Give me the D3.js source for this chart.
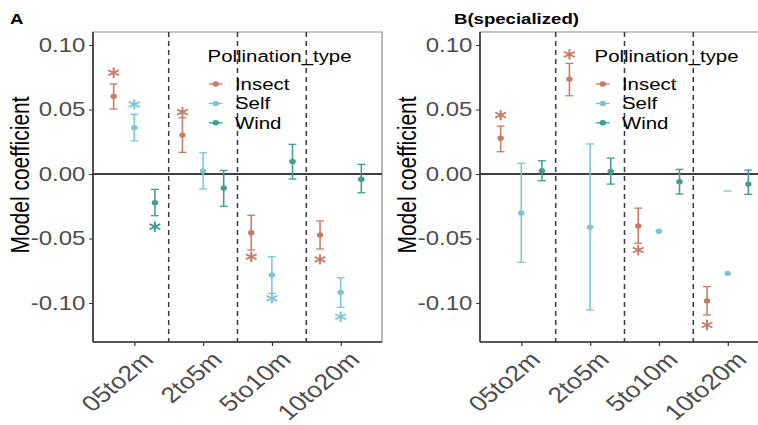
<!DOCTYPE html>
<html>
<head>
<meta charset="utf-8">
<script src="https://cdn.jsdelivr.net/npm/d3@7/dist/d3.min.js"></script>
<style>
  html, body { margin: 0; padding: 0; background: #ffffff; }
  svg { display: block; font-family: "Liberation Sans", Arial, sans-serif; }
</style>
</head>
<body>
<svg id="chart" width="758" height="425"></svg>
<script>
// Distance classes on the x axis and pollination groups
const categories = ["05to2m", "2to5m", "5to10m", "10to20m"];
const pollinationTypes = ["Insect", "Self", "Wind"];
const typeColors = ["#c97b66", "#7cc5d5", "#3f9e8f"];

const yTickValues = [-0.10, -0.05, 0.00, 0.05, 0.10];
const yTickLabels = ["-0.10", "-0.05", "0.00", "0.05", "0.10"];

// Panel A: all species
const aInsectEst  = [0.0602, 0.0302, -0.0455, -0.0473];
const aInsectLo   = [0.0504, 0.0168, -0.0589, -0.0581];
const aInsectHi   = [0.0698, 0.0436, -0.0320, -0.0364];
const aInsectStar = [0.0785, 0.0480, -0.0641, -0.0661];

const aSelfEst  = [0.0359, 0.0023, -0.0783, -0.0917];
const aSelfLo   = [0.0258, -0.0116, -0.0925, -0.1033];
const aSelfHi   = [0.0463, 0.0165, -0.0641, -0.0804];
const aSelfStar = [0.0540, null, -0.0964, -0.1106];

const aWindEst  = [-0.0222, -0.0109, 0.0098, -0.0041];
const aWindLo   = [-0.0323, -0.0250, -0.0039, -0.0145];
const aWindHi   = [-0.0119, 0.0028, 0.0230, 0.0075];
const aWindStar = [-0.0408, null, null, null];

// Panel B: specialized species
const bInsectEst  = [0.0277, 0.0736, -0.0403, -0.0984];
const bInsectLo   = [0.0173, 0.0607, -0.0537, -0.1093];
const bInsectHi   = [0.0372, 0.0858, -0.0264, -0.0873];
const bInsectStar = [0.0457, 0.0928, -0.0589, -0.1170];

const bSelfEst  = [-0.0302, -0.0413, -0.0444, -0.0770];
const bSelfLo   = [-0.0684, -0.1054, null, null];
const bSelfHi   = [0.0083, 0.0233, null, -0.0132];
const bSelfStar = [null, null, null, null];

const bWindEst  = [0.0026, 0.0021, -0.0060, -0.0078];
const bWindLo   = [-0.0052, -0.0078, -0.0155, -0.0157];
const bWindHi   = [0.0103, 0.0124, 0.0036, 0.0031];
const bWindStar = [null, null, null, null];

const panels = [
  {
    title: "A", left: 77.5, titleX: 8.3, axisTitleX: 24,
    series: [
      { est: aInsectEst, lo: aInsectLo, hi: aInsectHi, star: aInsectStar },
      { est: aSelfEst,   lo: aSelfLo,   hi: aSelfHi,   star: aSelfStar },
      { est: aWindEst,   lo: aWindLo,   hi: aWindHi,   star: aWindStar }
    ]
  },
  {
    title: "B(specialized)", left: 400, titleX: 378.3, axisTitleX: 346.5,
    series: [
      { est: bInsectEst, lo: bInsectLo, hi: bInsectHi, star: bInsectStar },
      { est: bSelfEst,   lo: bSelfLo,   hi: bSelfHi,   star: bSelfStar },
      { est: bWindEst,   lo: bWindLo,   hi: bWindHi,   star: bWindStar }
    ]
  }
];

// The figure is laid out in a coordinate space that is widened by SX.
const SX = 1.2;
const panelW = 240.8;
const plotTop = 32, plotBottom = 342;
const dodge = [-0.3, 0, 0.3];

const svg = d3.select("#chart");
svg.append("rect").attr("width", 758).attr("height", 425).attr("fill", "#ffffff");
const root = svg.append("g").attr("transform", `scale(${SX},1)`);

const y = d3.scaleLinear().domain([-0.1302, 0.1101]).range([plotBottom, plotTop]);

panels.forEach(p => {
  const x0 = p.left, x1 = p.left + panelW;
  const x = d3.scalePoint().domain(categories).range([x0, x1]).padding(0.6);
  const step = x.step();
  const g = root.append("g");

  // panel border
  g.append("rect")
    .attr("x", x0).attr("y", plotTop)
    .attr("width", x1 - x0).attr("height", plotBottom - plotTop)
    .attr("fill", "none").attr("stroke", "#8a8a8a").attr("stroke-width", 1);

  // zero reference line
  g.append("line")
    .attr("x1", x0).attr("x2", x1)
    .attr("y1", y(0)).attr("y2", y(0))
    .attr("stroke", "#404040").attr("stroke-width", 2);

  // dashed separators between distance classes
  g.selectAll("line.sep")
    .data(categories.slice(0, -1))
    .join("line")
    .attr("class", "sep")
    .attr("x1", d => x(d) + step / 2).attr("x2", d => x(d) + step / 2)
    .attr("y1", plotTop).attr("y2", plotBottom)
    .attr("stroke", "#35364e").attr("stroke-width", 1.25)
    .attr("stroke-dasharray", "5,4");

  // axes
  const yAxis = d3.axisLeft(y)
    .tickValues(yTickValues)
    .tickFormat((d, i) => yTickLabels[i])
    .tickSize(3.3).tickPadding(3);
  const ya = g.append("g").attr("transform", `translate(${x0},0)`).call(yAxis);
  ya.select(".domain").remove();
  ya.selectAll(".tick line").attr("stroke", "#333333").attr("stroke-width", 1);
  ya.selectAll(".tick text")
    .attr("fill", "#4d4d4d")
    .style("font-size", "20px")
    .style("font-family", "Liberation Sans, Arial, sans-serif");

  const xAxis = d3.axisBottom(x).tickSize(4).tickFormat(() => "");
  const xa = g.append("g").attr("transform", `translate(0,${plotBottom})`).call(xAxis);
  xa.select(".domain").remove();
  xa.selectAll(".tick line").attr("stroke", "#333333").attr("stroke-width", 1);

  g.selectAll("text.xlab")
    .data(categories)
    .join("text")
    .attr("class", "xlab")
    .attr("transform", d => `translate(${x(d) + 6},${plotBottom + 8}) rotate(-45)`)
    .attr("text-anchor", "end")
    .attr("dy", "0.71em")
    .attr("fill", "#4d4d4d")
    .style("font-size", "22px")
    .text(d => d);

  g.append("line")
    .attr("x1", x0).attr("x2", x0).attr("y1", plotTop).attr("y2", plotBottom)
    .attr("stroke", "#333333").attr("stroke-width", 1.3);
  g.append("line")
    .attr("x1", x0).attr("x2", x1).attr("y1", plotBottom).attr("y2", plotBottom)
    .attr("stroke", "#333333").attr("stroke-width", 1.3);

  // error bars, point estimates and significance marks
  const capHalf = 3.3;
  const asterisk = d3.symbol().type(d3.symbolAsterisk).size(75);
  p.series.forEach((s, k) => {
    const col = typeColors[k];
    const rows = categories.map((c, i) => ({
      cx: x(c) + dodge[k] * step,
      est: s.est[i], lo: s.lo[i], hi: s.hi[i], star: s.star[i]
    }));
    const sg = g.append("g");
    sg.selectAll("line.bar")
      .data(rows.filter(r => r.lo !== null && r.hi !== null))
      .join("line")
      .attr("class", "bar")
      .attr("x1", r => r.cx).attr("x2", r => r.cx)
      .attr("y1", r => y(r.lo)).attr("y2", r => y(r.hi))
      .attr("stroke", col).attr("stroke-width", 1.3);
    const caps = [];
    rows.forEach(r => {
      if (r.lo !== null) caps.push({ cx: r.cx, v: r.lo });
      if (r.hi !== null) caps.push({ cx: r.cx, v: r.hi });
    });
    sg.selectAll("line.cap")
      .data(caps)
      .join("line")
      .attr("class", "cap")
      .attr("x1", c => c.cx - capHalf).attr("x2", c => c.cx + capHalf)
      .attr("y1", c => y(c.v)).attr("y2", c => y(c.v))
      .attr("stroke", col).attr("stroke-width", 1.3);
    sg.selectAll("circle")
      .data(rows)
      .join("circle")
      .attr("cx", r => r.cx).attr("cy", r => y(r.est))
      .attr("r", 2.7).attr("fill", col);
    sg.selectAll("path.star")
      .data(rows.filter(r => r.star !== null))
      .join("path")
      .attr("class", "star")
      .attr("transform", r => `translate(${r.cx},${y(r.star)})`)
      .attr("d", asterisk())
      .attr("fill", "none").attr("stroke", col).attr("stroke-width", 1.7);
  });

  // legend
  const lx = x0 + 95.5;
  const lg = g.append("g");
  lg.append("text")
    .attr("x", lx).attr("y", 62)
    .attr("fill", "#000000")
    .style("font-size", "17px")
    .text("Pollination_type");
  pollinationTypes.forEach((t, k) => {
    const cy = 84 + k * 19.4;
    lg.append("line")
      .attr("x1", lx + 1).attr("x2", lx + 12.5)
      .attr("y1", cy).attr("y2", cy)
      .attr("stroke", typeColors[k]).attr("stroke-width", 1.3);
    lg.append("circle")
      .attr("cx", lx + 6.8).attr("cy", cy).attr("r", 2.7)
      .attr("fill", typeColors[k]);
    lg.append("text")
      .attr("x", lx + 22.8).attr("y", cy + 6)
      .attr("fill", "#000000")
      .style("font-size", "17px")
      .text(t);
  });

  // titles
  const midY = (plotTop + plotBottom) / 2 - 12;
  g.append("text")
    .attr("x", p.axisTitleX).attr("y", midY)
    .attr("transform", `rotate(-90,${p.axisTitleX},${midY})`)
    .attr("text-anchor", "middle")
    .attr("fill", "#000000")
    .style("font-size", "21px")
    .text("Model coefficient");
  g.append("text")
    .attr("x", p.titleX).attr("y", 24.5)
    .attr("fill", "#000000")
    .style("font-size", "15.5px").style("font-weight", "bold")
    .text(p.title);
});
</script>
</body>
</html>
